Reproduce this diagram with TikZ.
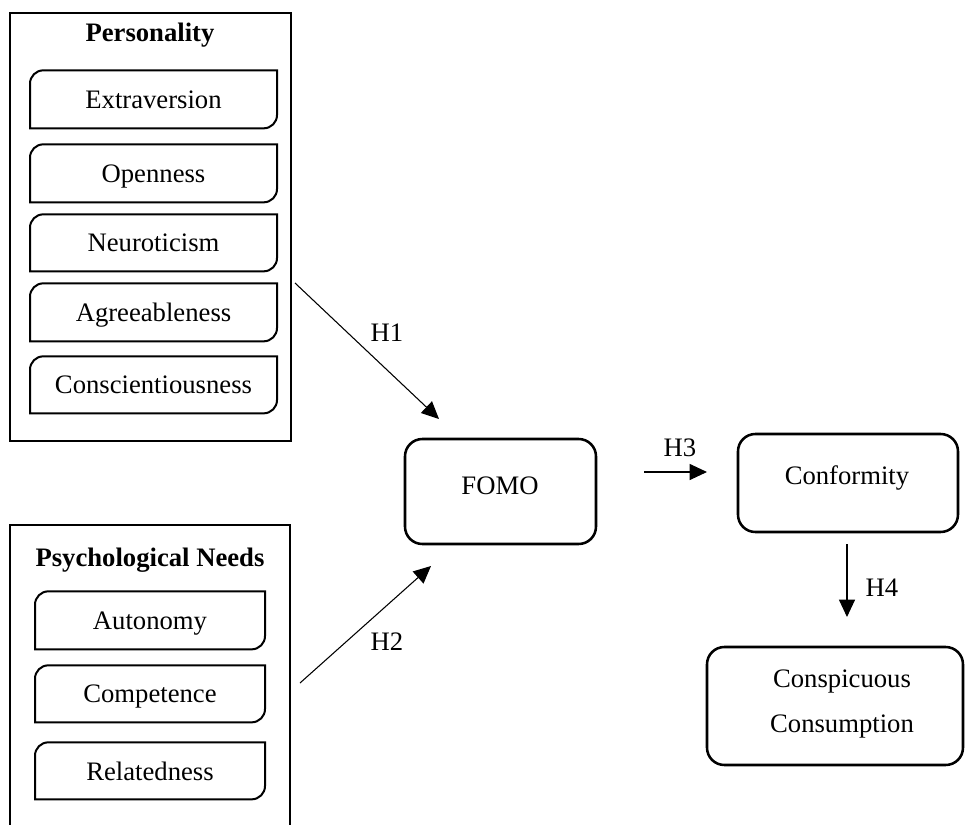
\documentclass[tikz,border=0pt]{standalone}
\usepackage{fontspec}
\setmainfont{Liberation Serif}
\usetikzlibrary{arrows.meta,fit}
\newcommand\dbox[5]{%
  \node[minimum width=#3*0.75pt, minimum height=#4*0.75pt, text depth=0pt, yshift=-1pt] (#1) at #2 {#5};
  \draw[innerline] (#1.north east) -- ([xshift=10pt]#1.north west) arc[start angle=90,end angle=180,radius=10pt] -- (#1.south west) -- ([xshift=-10pt]#1.south east) arc[start angle=270,end angle=360,radius=10pt] -- cycle;}
\begin{document}
\begin{tikzpicture}[x=0.75pt,y=-0.75pt,
  every node/.style={font=\fontsize{20}{24}\selectfont, inner sep=0pt, outer sep=0pt},
  outer/.style={line width=1.8pt},
  innerline/.style={line width=1.5pt, line join=miter},
  bigbox/.style={draw, line width=1.9pt, rounded corners=13pt},
  hyp/.style={line width=0.8pt, -{Triangle[length=13pt,width=12pt]}},
  title/.style={font=\fontsize{20}{24}\selectfont\bfseries},
]
\useasboundingbox (0,0) rectangle (965,825);

% Personality group
\node[draw, outer, fit={(10,13) (291,441)}] (pers) {};
\node[title] (perst) at (150,35) {Personality};
\dbox{ext}{(153.5,98)}{247}{58}{Extraversion}
\dbox{ope}{(153.5,172)}{247}{58}{Openness}
\dbox{neu}{(153.5,241.5)}{247}{57}{Neuroticism}
\dbox{agr}{(153.5,311)}{247}{58}{Agreeableness}
\dbox{con}{(153.5,383.5)}{247}{57}{Conscientiousness}

% Psychological needs group
\coordinate (pnbl) at (10,830);
\coordinate (pntl) at (10,525);
\coordinate (pntr) at (290,525);
\coordinate (pnbr) at (290,830);
\draw[outer] (pnbl) -- (pntl) -- (pntr) -- (pnbr);
\node[title] (pnt) at (150,560) {Psychological Needs};
\dbox{aut}{(150,619)}{230}{58}{Autonomy}
\dbox{com}{(150,692.5)}{230}{57}{Competence}
\dbox{rel}{(150,769.5)}{230}{57}{Relatedness}

% Main constructs
\node[bigbox, fit={(405,439) (596,544)}] (fomo) {};
\node (fomot) at (500,486) {FOMO};
\node[bigbox, fit={(738,434) (958,532)}] (conf) {};
\node (conft) at (847,478) {Conformity};
\node[bigbox, fit={(707,647) (963,765)}] (consp) {};
\node[align=center, font=\fontsize{20}{33.75}\selectfont] (conspt) at (842,704) {Conspicuous\\Consumption};

% Hypothesis arrows
\coordinate (h1s) at (295,283);
\coordinate (h1e) at (439,419);
\draw[hyp] (h1s) -- (h1e);
\node (h1) at (387,333) {H1};
\coordinate (h2s) at (300,683);
\coordinate (h2e) at (431,566);
\draw[hyp] (h2s) -- (h2e);
\node (h2) at (387,642) {H2};
\coordinate (h3s) at (644,472);
\coordinate (h3e) at (707,472);
\draw[hyp] (h3s) -- (h3e);
\node (h3) at (680,448) {H3};
\coordinate (h4s) at (847,544);
\coordinate (h4e) at (847,617);
\draw[hyp] (h4s) -- (h4e);
\node (h4) at (882,588) {H4};
\end{tikzpicture}
\end{document}
